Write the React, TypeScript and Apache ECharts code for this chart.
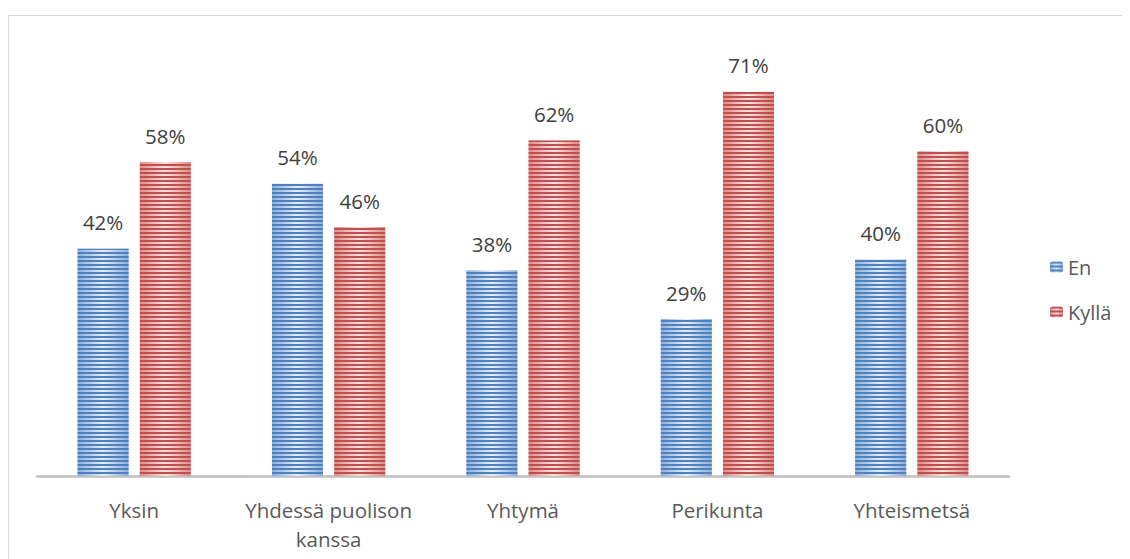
import React, { useEffect, useRef } from "react";
import * as echarts from "echarts";

const categories = ["Yksin", "Yhdessä puolison\nkanssa", "Yhtymä", "Perikunta", "Yhteismetsä"];
const seriesNames = ["En", "Kyllä"];
const enValues = [42, 54, 38, 29, 40];
const kyllaValues = [58, 46, 62, 71, 60];

const FONT = "'Open Sans', 'Noto Sans', sans-serif";

function stripeFill(edge: string, mid: string) {
  return new echarts.graphic.LinearGradient(0, 0, 1, 0, [
    { offset: 0, color: edge },
    { offset: 0.5, color: mid },
    { offset: 1, color: edge },
  ]);
}

export default function App() {
  const ref = useRef<HTMLDivElement>(null);
  useEffect(() => {
    if (!ref.current) return;
    const chart = echarts.init(ref.current, null, { renderer: "svg" });
    const mkSeries = (name: string, data: number[], edge: string, mid: string, dark: string) => ({
      name,
      type: "bar",
      data,
      barWidth: 51,
      barGap: "22%",
      itemStyle: {
        color: stripeFill(edge, mid),
        decal: {
          symbol: "rect",
          symbolSize: 1,
          color: dark,
          dashArrayX: [1, 0],
          dashArrayY: [1.5, 1.5],
          rotation: 0,
        },
      },
      label: {
        show: true,
        position: "top",
        distance: 16,
        formatter: "{c}%",
        color: "#404040",
        fontSize: 20.5,
        fontFamily: FONT,
      },
    });
    chart.setOption({
      animation: false,
      backgroundColor: "#ffffff",
      grid: { left: 28, width: 972, top: 27, bottom: 83, containLabel: false },
      legend: {
        orient: "vertical",
        left: 1036,
        top: 236,
        itemWidth: 13,
        itemHeight: 11,
        itemGap: 25,
        data: seriesNames,
        textStyle: { fontSize: 20, color: "#595959", fontFamily: FONT, lineHeight: 20 },
      },
      xAxis: {
        type: "category",
        data: categories,
        axisLine: { lineStyle: { color: "#bfbfbf", width: 2.5 } },
        axisTick: { show: false },
        axisLabel: {
          color: "#595959",
          fontSize: 20.5,
          fontFamily: FONT,
          lineHeight: 29,
          margin: 19,
          interval: 0,
        },
      },
      yAxis: {
        type: "value",
        min: 0,
        max: 80,
        interval: 10,
        show: false,
        splitLine: { show: false },
      },
      series: [
        mkSeries(seriesNames[0], enValues, "#8eaedc", "#e6eef9", "#4f81bd"),
        mkSeries(seriesNames[1], kyllaValues, "#dc8d8b", "#fae3e3", "#c0504d"),
      ],
    });
    return () => chart.dispose();
  }, []);
  return (
    <div
      style={{
        marginTop: 7,
        width: 1122,
        height: 544,
        borderTop: "1px solid #d9d9d9",
        borderLeft: "1px solid #d9d9d9",
        boxSizing: "border-box",
        overflow: "hidden",
      }}
    >
      <div ref={ref} style={{ width: 1121, height: 543 }} />
    </div>
  );
}
